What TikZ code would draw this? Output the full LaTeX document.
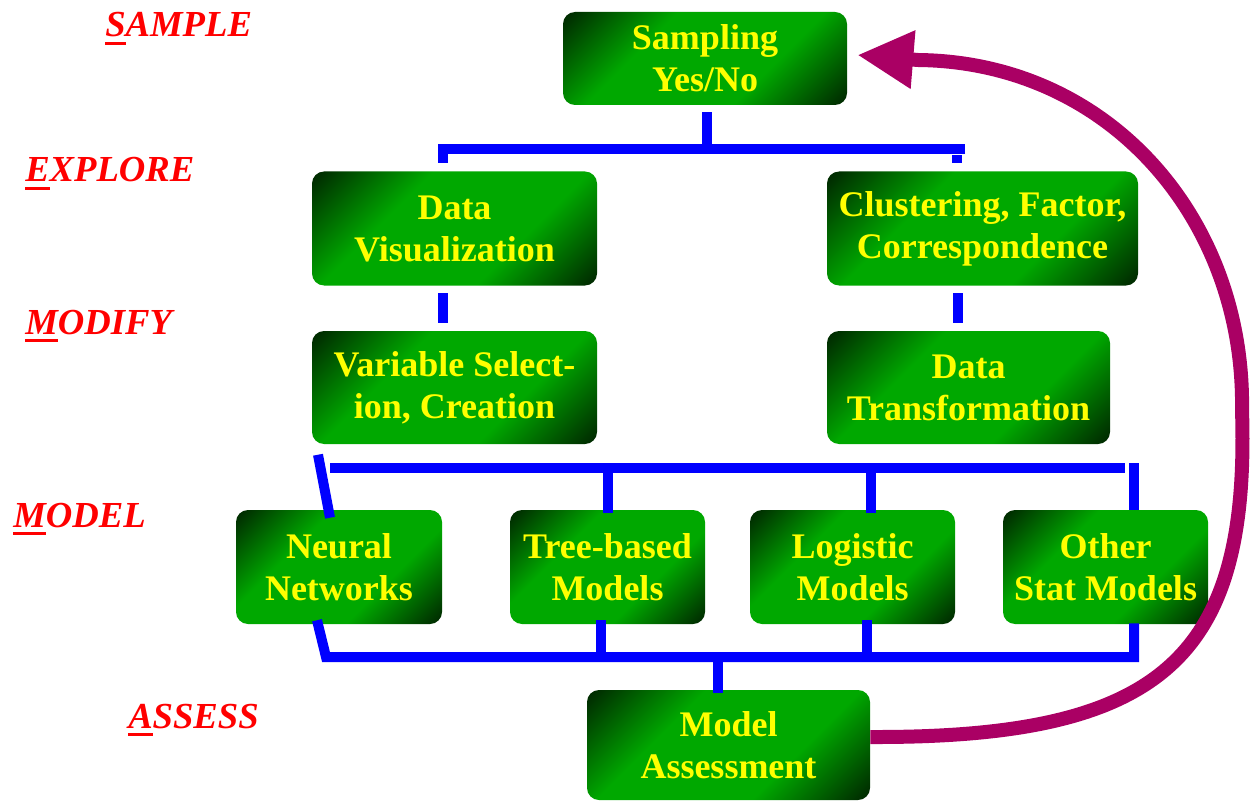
\documentclass[tikz,border=0pt]{standalone}
\usepackage{fontspec}
\setmainfont{Liberation Serif}
\usetikzlibrary{arrows.meta}
\definecolor{gdark}{RGB}{0,45,0}
\definecolor{gbright}{RGB}{0,168,0}
\definecolor{boxtext}{RGB}{255,255,0}
\definecolor{busblue}{RGB}{0,0,255}
\definecolor{loopc}{RGB}{170,0,100}
\definecolor{lblred}{RGB}{255,0,0}
\pgfdeclareverticalshading{boxshade}{100bp}{color(0bp)=(gdark); color(16bp)=(gdark); color(36bp)=(gbright); color(64bp)=(gbright); color(84bp)=(gdark); color(100bp)=(gdark)}
\newcommand\firstul[1]{\setbox0\hbox{#1}\rlap{\rule[-6pt]{\wd0}{2.2pt}}#1}
\tikzset{
  stagebox/.style={shade, shading=boxshade, shading angle=45, rounded corners=9pt,
    text=boxtext, font=\fontsize{27pt}{31.5pt}\selectfont\bfseries, align=center, inner sep=0pt},
  bus/.style={draw=busblue, line width=7.5pt},
  stagelbl/.style={text=lblred, font=\fontsize{27.5pt}{30pt}\selectfont\bfseries\itshape,
    anchor=base west, inner sep=0pt},
  feedback/.style={draw=loopc, line width=10.5pt, -{Triangle[length=42pt,width=41pt]}}
}
\begin{document}
\begin{tikzpicture}[x=0.75pt,y=0.75pt]
\useasboundingbox (0,0) rectangle (1252,-802);
% stage labels
\node[stagelbl] (lsample)  at (105,-37)  {\firstul{S}AMPLE};
\node[stagelbl] (lexplore) at (25,-182)  {\firstul{E}XPLORE};
\node[stagelbl] (lmodify)  at (25,-334)  {\firstul{M}ODIFY};
\node[stagelbl] (lmodel)   at (13,-527)  {\firstul{M}ODEL};
\node[stagelbl] (lassess)  at (128,-728) {\firstul{A}SSESS};
% boxes
\node[stagebox, minimum width=213pt, minimum height=69.75pt] (sampling) at (705,-58.5) {Sampling\\Yes/No};
\node[stagebox, minimum width=213.75pt, minimum height=85.5pt] (dataviz) at (454.5,-228.5) {Data\\Visualization};
\node[stagebox, minimum width=233.25pt, minimum height=85.5pt] (cluster) at (982.5,-228.5) {Clustering, Factor,\\Correspondence};
\node[stagebox, minimum width=213.75pt, minimum height=84.75pt] (varsel) at (454.5,-387.5) {Variable Select-\\ion, Creation};
\node[stagebox, minimum width=212.25pt, minimum height=84.75pt] (datatrans) at (968.5,-387.5) {Data\\Transformation};
\node[stagebox, minimum width=154.5pt, minimum height=85.5pt] (neural) at (339,-567) {Neural\\Networks};
\node[stagebox, minimum width=146.25pt, minimum height=85.5pt] (tree) at (607.5,-567) {Tree-based\\Models};
\node[stagebox, minimum width=153.75pt, minimum height=85.5pt] (logistic) at (852.5,-567) {Logistic\\Models};
\node[stagebox, minimum width=153.75pt, minimum height=85.5pt] (other) at (1105.5,-567) {Other\\Stat Models};
\node[stagebox, minimum width=212.25pt, minimum height=82.5pt] (assess) at (728.5,-745) {Model\\Assessment};
% top bus
\draw[bus] ([shift={(2,-7)}]sampling.south) -- ([shift={(2,-44)}]sampling.south);
\draw[bus] ([shift={(260,-44)}]sampling.south) -- ([shift={(-262,-44)}]sampling.south) -- ([shift={(-262,-58)}]sampling.south);
\draw[bus] ([shift={(252,-50)}]sampling.south) -- ([shift={(252,-58)}]sampling.south);
% explore -> modify
\draw[bus] ([shift={(-11.5,-7.5)}]dataviz.south) -- ([shift={(-11.5,8)}]varsel.north);
\draw[bus] ([shift={(-24.5,-7.5)}]cluster.south) -- ([shift={(-10.5,8)}]datatrans.north);
% model bus (top)
\coordinate (mbusL) at (330,-468);
\coordinate (mbusR) at (1125,-468);
\draw[bus] (mbusL) -- (mbusR);
\draw[bus] ([shift={(-21,55)}]neural.north) -- ([shift={(-9,-8)}]neural.north);
\draw[bus] ([shift={(0,-3)}]tree.north) -- (tree.north |- mbusL);
\draw[bus] ([shift={(18.5,-3)}]logistic.north) -- ([shift={(18.5,47)}]logistic.north);
\draw[bus] ([shift={(28.5,0)}]other.north) -- ([shift={(28.5,47)}]other.north);
% model bus (bottom)
\coordinate (bbusL) at (326,-657);
\coordinate (bbusR) at (1134,-657);
\draw[bus] ([shift={(-22,4)}]neural.south) -- (bbusL) -- (bbusR) -- ([shift={(28.5,1)}]other.south);
\draw[bus] ([shift={(-6.5,4)}]tree.south) -- ([shift={(-6.5,-33)}]tree.south);
\draw[bus] ([shift={(14.5,4)}]logistic.south) -- ([shift={(14.5,-33)}]logistic.south);
\draw[bus] ([shift={(-10.5,33)}]assess.north) -- ([shift={(-10.5,-3)}]assess.north);
% feedback arrow
\coordinate (loopR) at (1242,-410);
\coordinate (loopT) at (918,-60);
\draw[feedback] ([yshift=6pt]assess.east) .. controls (1160,-738) and (1250,-660) .. (loopR)
  .. controls (1245,-220) and (1110,-62) .. (loopT) -- ([shift={(10,3.5)}]sampling.east);
\end{tikzpicture}
\end{document}
